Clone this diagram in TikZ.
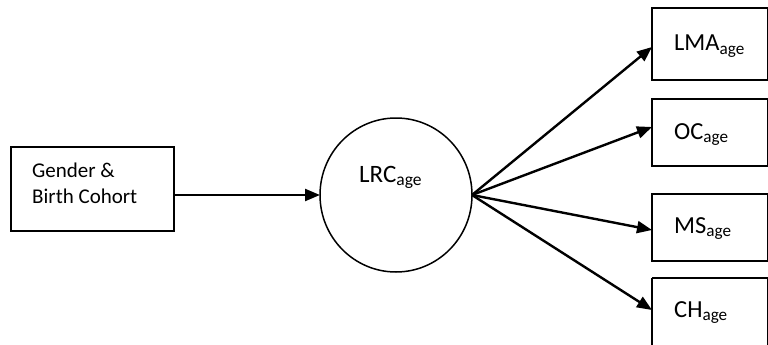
\documentclass[tikz,border=0pt]{standalone}
\usepackage{fontspec}
\setmainfont{Carlito}
\usetikzlibrary{arrows.meta}
\newcommand{\agesub}[1]{\textsubscript{#1}}
\tikzset{
  boxst/.style={draw=black, line width=1.5pt},
  arr/.style={line width=2.4pt, -{Triangle[length=15pt,width=12pt]}},
  lbl/.style={anchor=base west, inner sep=0pt, font=\fontsize{24.5}{28}\selectfont},
}
\begin{document}
\begin{tikzpicture}[x=1pt,y=-1pt]
\useasboundingbox (0,0) rectangle (768,345);
% source box
\draw[boxst] (11,147) rectangle (174,231);
\coordinate (gE) at (174,195);
\node[anchor=base west, inner sep=0pt, align=left, font=\fontsize{21}{26}\selectfont] (gtxt) at (32,203) {Gender \&\\Birth Cohort};
% circle
\draw[line width=1.5pt] (396,195) ellipse [x radius=76, y radius=77];
\coordinate (cW) at (320,195);
\coordinate (cE) at (472,195);
\node[lbl, font=\fontsize{25}{30}\selectfont] (lrc) at (359,182) {LRC\agesub{age}};
% target boxes
\draw[boxst] (652,8) rectangle (767.5,80);
\draw[boxst] (652,99) rectangle (767.5,166);
\draw[boxst] (652,194) rectangle (767.5,261);
\draw[boxst] (652,278) -- (652,350) (652,278) -- (767.5,278) -- (767.5,350);
\coordinate (t1) at (652,47);
\coordinate (t2) at (652,127);
\coordinate (t3) at (652,230);
\coordinate (t4) at (652,310);
\node[lbl] (lma) at (674,51) {LMA\agesub{age}};
\node[lbl] (oc) at (674,139) {OC\agesub{age}};
\node[lbl] (ms) at (674,233) {MS\agesub{age}};
\node[lbl] (ch) at (674,317) {CH\agesub{age}};
% connectors
\draw[arr] (gE) -- (cW);
\draw[arr] (cE) -- (t1);
\draw[arr] (cE) -- (t2);
\draw[arr] (cE) -- (t3);
\draw[arr] (cE) -- (t4);
\end{tikzpicture}
\end{document}
